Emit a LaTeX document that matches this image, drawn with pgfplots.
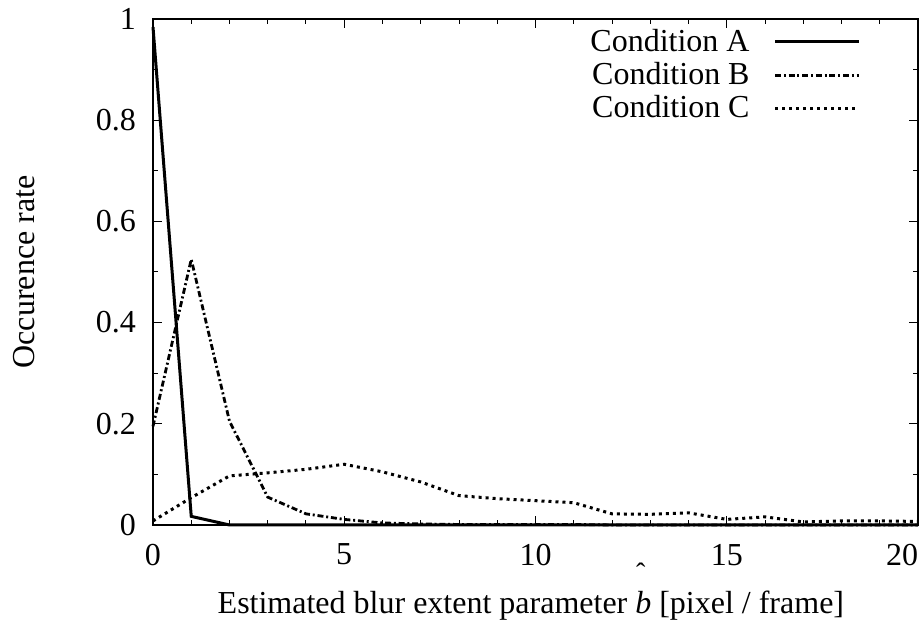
\documentclass[border=0pt]{standalone}
\usepackage{fontspec}
\setmainfont{Liberation Serif}
\usepackage{pgfplots}
\pgfplotsset{compat=1.18}
\newcommand\fsz{\fontsize{16}{19}\selectfont}
\begin{document}
\begin{tikzpicture}
\begin{axis}[
  scale only axis,
  width=382.5pt, height=253pt,
  xmin=0, xmax=20, ymin=0, ymax=1,
  clip=false,
  xtick={0,5,10,15,20},
  xticklabels={0,5,10,15,\llap{20}},
  ytick={0,0.2,0.4,0.6,0.8,1},
  yticklabels={0,0.2,0.4,0.6,0.8,1},
  minor x tick num=4,
  minor y tick num=1,
  tick align=inside,
  tick pos=both,
  major tick length=4.5pt,
  minor tick length=2.5pt,
  every tick/.style={black, line width=0.5pt},
  axis line style={line width=1pt},
  /pgf/number format/assume math mode=true,
  tick label style={font=\fsz},
  xticklabel style={yshift=-6pt},
  yticklabel style={xshift=-5pt},
  label style={font=\fsz},
  xlabel={Estimated blur extent parameter \textit{b} [pixel / frame]},
  ylabel={Occurence rate},
  xlabel style={at={(axis description cs:0.494,-0.160)}, anchor=center},
  ylabel style={at={(axis description cs:-0.169,0.5)}, anchor=center, rotate=0},
  legend style={draw=none, fill=none, font=\fsz, at={(axis description cs:0.9333,0.996)}, anchor=north east, row sep=0pt},
  legend cell align=right,
  legend plot pos=right,
  legend image code/.code={\path (0pt,0pt); \draw[#1] (10pt,0pt) -- (52pt,0pt);},
]
\addplot[black, line width=1.5pt] coordinates {
(0,0.984) (1,0.017) (2,0) (3,0) (4,0) (5,0) (6,0) (7,0) (8,0) (9,0) (10,0)
(11,0) (12,0) (13,0) (14,0) (15,0) (16,0) (17,0) (18,0) (19,0) (20,0)};
\addlegendentry{Condition A}
\addplot[black, line width=1.4pt, dash pattern=on 3pt off 1.4pt on 1pt off 1.4pt] coordinates {
(0,0.195) (1,0.525) (2,0.205) (3,0.055) (4,0.022) (5,0.011) (6,0.004) (7,0.002) (8,0.001) (9,0.001) (10,0.001)
(11,0.001) (12,0) (13,0) (14,0) (15,0) (16,0) (17,0) (18,0) (19,0) (20,0)};
\addlegendentry{Condition B}
\addplot[black, line width=1.5pt, dash pattern=on 1.5pt off 2pt] coordinates {
(0,0.008) (1,0.054) (2,0.097) (3,0.103) (4,0.110) (5,0.120) (6,0.105) (7,0.085) (8,0.058) (9,0.052) (10,0.048)
(11,0.044) (12,0.022) (13,0.021) (14,0.024) (15,0.011) (16,0.016) (17,0.006) (18,0.008) (19,0.008) (20,0.007)};
\addlegendentry{Condition C}
\node[font=\fontsize{14}{14}\selectfont, inner sep=0pt, anchor=north] at (axis cs:12.75,0) [yshift=-19pt] {ˆ};
\coordinate (bbA) at (axis description cs:-0.2,-0.1976);
\coordinate (bbB) at (axis description cs:1.0013,1.0375);
\end{axis}
\pgfresetboundingbox
\path[use as bounding box] (bbA) rectangle (bbB);
\end{tikzpicture}
\end{document}
